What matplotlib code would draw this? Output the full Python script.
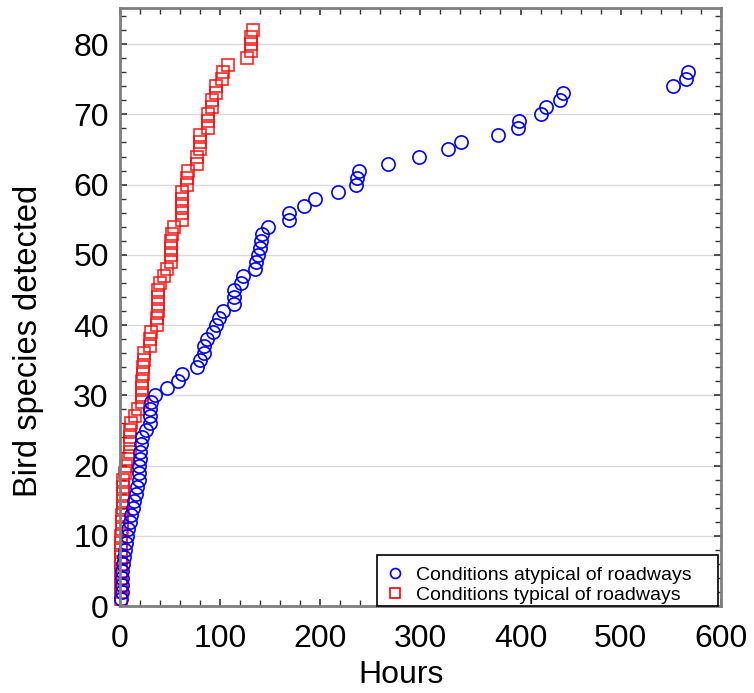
import matplotlib
matplotlib.use("Agg")
import matplotlib.pyplot as plt
from matplotlib.ticker import MultipleLocator
from matplotlib.patches import Rectangle

plt.rcParams['font.family'] = ['Liberation Sans', 'DejaVu Sans']

# Conditions atypical of roadways (blue circles): hours for species 1..76
atyp_hours = [1.5, 1.8, 2, 2, 2.6, 3, 4, 5, 6, 7, 8.6, 10, 11, 13, 13.6, 16, 17, 18.6, 19, 19,
              20, 20.5, 21, 22, 26, 30.5, 30.5, 30.5, 31, 35, 47, 58, 62, 77, 80, 84, 84, 86.6,
              92.5, 96, 99, 103, 114, 114, 114, 121, 123, 135, 136, 138, 140, 141, 142, 148,
              169, 169, 184, 195, 218, 236, 237, 239, 268, 299, 328, 341, 378, 397, 398, 420,
              425, 439, 442, 552, 565, 567]
atyp_species = list(range(1, len(atyp_hours) + 1))

# Conditions typical of roadways (red squares): hours for species 1..82
typ_hours = [1, 1, 1, 1, 1, 1, 1.5, 1.5, 1.5, 1.5, 2, 2, 2, 3.6, 3.6, 3.6, 3.6, 3.6, 5, 6,
             8.6, 10, 10, 10, 10, 11, 15, 18, 22, 22, 22, 22, 23, 23.5, 24.5, 24.5, 30, 30, 31,
             37, 37, 38.4, 38.4, 38.4, 38.4, 40, 44.4, 46.8, 51, 51, 51, 51, 51.7, 54.4, 61.7,
             61.7, 61.7, 61.7, 61.7, 66.7, 66.7, 67.7, 76.6, 76.6, 80, 80, 80, 88, 88, 88, 92,
             92, 96, 96, 101.5, 103, 107.5, 127, 131, 131, 131, 133]
typ_species = list(range(1, len(typ_hours) + 1))

fig = plt.figure(figsize=(7.54, 6.93), dpi=100)
ax = fig.add_axes([0.159, 0.1255, 0.797, 0.8635])

ax.grid(axis='y', color='#d9d9d9', linewidth=1.0)
ax.set_axisbelow(True)

h_typ, = ax.plot(typ_hours, typ_species, linestyle='none', marker='s', markersize=9.2,
                 markerfacecolor='none', markeredgecolor='#ff0000', markeredgewidth=1.2,
                 alpha=0.85, clip_on=False, label='Conditions typical of roadways')
h_atyp, = ax.plot(atyp_hours, atyp_species, linestyle='none', marker='o', markersize=9.5,
                  markerfacecolor='none', markeredgecolor='#0000ff', markeredgewidth=1.2,
                  clip_on=False, label='Conditions atypical of roadways')

ax.set_xlim(0, 600)
ax.set_ylim(0, 85.2)
ax.xaxis.set_major_locator(MultipleLocator(100))
ax.xaxis.set_minor_locator(MultipleLocator(20))
ax.yaxis.set_major_locator(MultipleLocator(10))
ax.yaxis.set_minor_locator(MultipleLocator(2))

ax.tick_params(which='both', direction='in', top=True, right=True, color='#333333')
ax.tick_params(which='major', length=5, width=1.2, labelsize=23)
ax.tick_params(which='minor', length=4, width=1.0)
ax.tick_params(axis='y', which='major', pad=8)
ax.tick_params(axis='x', which='major', pad=13)

for s in ax.spines.values():
    s.set_color('#7f7f7f')
    s.set_linewidth(2)

ax.set_xlabel('Hours', fontsize=23)
ax.set_ylabel('Bird species detected', fontsize=23.5)
ax.xaxis.set_label_coords(0.468, -0.091)
ax.yaxis.set_label_coords(-0.126, 0.443)

# legend frame drawn as a rectangle (wide right margin as in reference)
ax.add_patch(Rectangle((0.428, 0.0), 0.567, 0.085, transform=ax.transAxes,
                       facecolor='white', edgecolor='black', linewidth=1.2,
                       zorder=4.5, clip_on=False))
leg = ax.legend(handles=[h_atyp, h_typ], loc='lower left', fontsize=14,
                bbox_to_anchor=(0.439, 0.0), markerscale=0.75, frameon=False,
                borderpad=0.1, labelspacing=0.13,
                handlelength=1.0, handletextpad=0.55, borderaxespad=0.0)
for lh in leg.legend_handles:
    lh.set_alpha(1)

fig.savefig('out.png', dpi=100)
